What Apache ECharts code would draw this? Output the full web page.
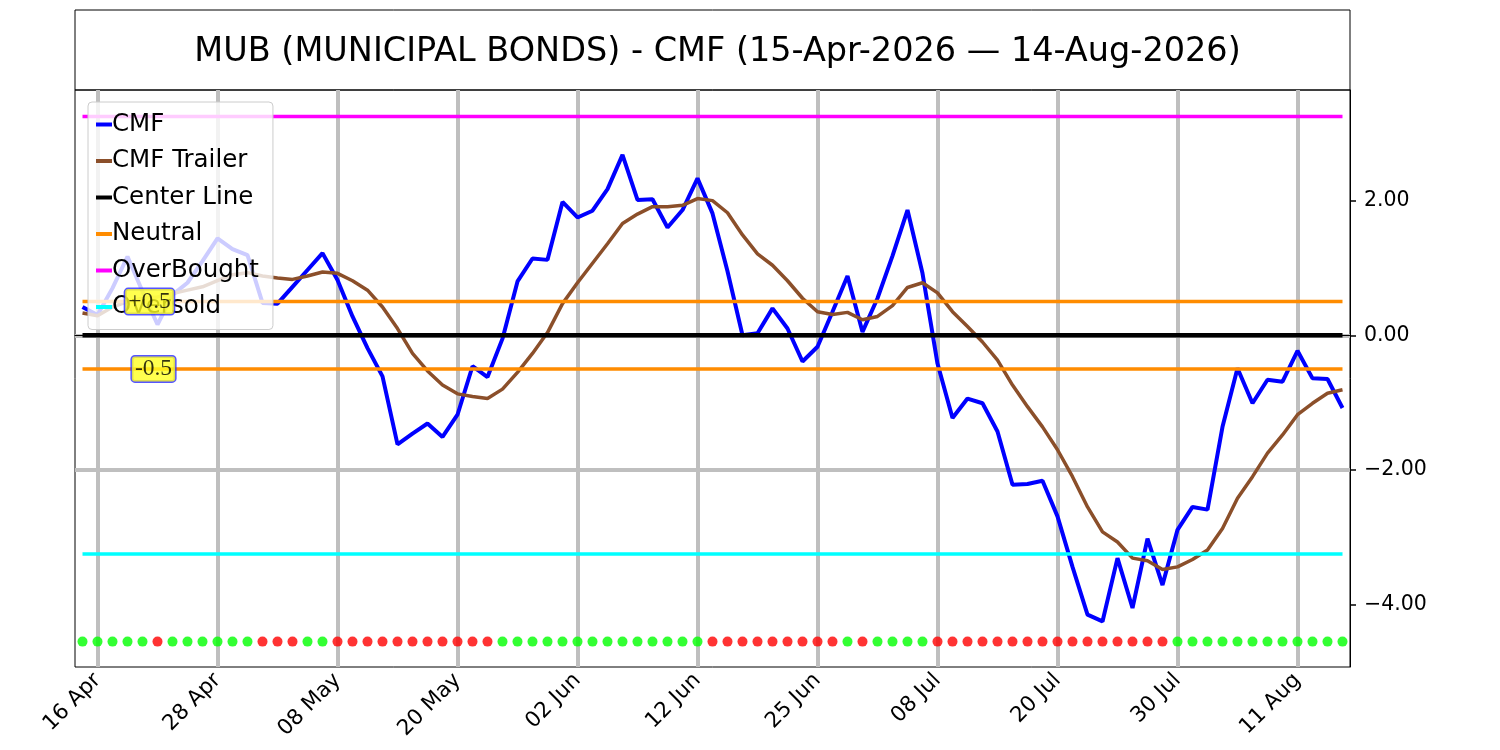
<!DOCTYPE html>
<html lang="en">
<head>
<meta charset="UTF-8">
<title>MUB CMF</title>
<script src="https://cdn.jsdelivr.net/npm/echarts@6/dist/echarts.min.js"></script>
<style>
    *{margin:0;padding:0;}
    html,body{width:100%;height:100%;overflow:hidden;background:#fff;}
    .container{width:1500px;height:750px;}
</style>
</head>
<body>
<div class="container"></div>
<script>
    // trading days 15 Apr 2026 - 14 Aug 2026
    const dates = [
        '15 Apr','16 Apr','17 Apr','20 Apr','21 Apr','22 Apr','23 Apr','24 Apr','27 Apr','28 Apr','29 Apr','30 Apr',
        '01 May','04 May','05 May','06 May','07 May','08 May','11 May','12 May','13 May','14 May','15 May','18 May',
        '19 May','20 May','21 May','22 May','26 May','27 May','28 May','29 May',
        '01 Jun','02 Jun','03 Jun','04 Jun','05 Jun','08 Jun','09 Jun','10 Jun','11 Jun','12 Jun','15 Jun','16 Jun',
        '17 Jun','18 Jun','22 Jun','23 Jun','24 Jun','25 Jun','26 Jun','29 Jun','30 Jun',
        '01 Jul','02 Jul','06 Jul','07 Jul','08 Jul','09 Jul','10 Jul','13 Jul','14 Jul','15 Jul','16 Jul','17 Jul',
        '20 Jul','21 Jul','22 Jul','23 Jul','24 Jul','27 Jul','28 Jul','29 Jul','30 Jul','31 Jul',
        '03 Aug','04 Aug','05 Aug','06 Aug','07 Aug','10 Aug','11 Aug','12 Aug','13 Aug','14 Aug'
    ];
    const tickDates = ['16 Apr','28 Apr','08 May','20 May','02 Jun','12 Jun','25 Jun','08 Jul','20 Jul','30 Jul','11 Aug'];

    const cmf = [
        0.42, 0.30, 0.70, 1.17, 0.65, 0.16, 0.60, 0.78, 1.10, 1.44,
        1.28, 1.19, 0.48, 0.47, 0.72, 0.97, 1.22, 0.82, 0.28, -0.19,
        -0.61, -1.62, -1.46, -1.31, -1.51, -1.18, -0.46, -0.62, -0.05, 0.80,
        1.14, 1.12, 1.98, 1.75, 1.85, 2.17, 2.68, 2.01, 2.02, 1.60,
        1.86, 2.33, 1.81, 0.95, 0.00, 0.03, 0.40, 0.10, -0.39, -0.17,
        0.35, 0.88, 0.05, 0.55, 1.18, 1.86, 0.92, -0.42, -1.23, -0.94,
        -1.01, -1.43, -2.22, -2.21, -2.16, -2.69, -3.44, -4.15, -4.25, -3.31,
        -4.05, -3.02, -3.71, -2.89, -2.55, -2.59, -1.36, -0.49, -1.01, -0.66,
        -0.69, -0.23, -0.64, -0.65, -1.08
    ];
    const trailer = [
        0.33, 0.29, 0.42, 0.50, 0.55, 0.57, 0.62, 0.67, 0.72, 0.81,
        0.90, 0.93, 0.88, 0.85, 0.83, 0.88, 0.94, 0.92, 0.81, 0.67,
        0.42, 0.10, -0.27, -0.53, -0.74, -0.87, -0.91, -0.94, -0.80, -0.55,
        -0.27, 0.04, 0.47, 0.78, 1.07, 1.36, 1.66, 1.80, 1.91, 1.91,
        1.93, 2.03, 2.00, 1.82, 1.49, 1.21, 1.04, 0.81, 0.55, 0.35,
        0.31, 0.34, 0.23, 0.28, 0.44, 0.71, 0.78, 0.63, 0.35, 0.13,
        -0.10, -0.37, -0.74, -1.06, -1.36, -1.70, -2.10, -2.55, -2.92, -3.07,
        -3.31, -3.35, -3.48, -3.44, -3.33, -3.19, -2.87, -2.42, -2.10, -1.75,
        -1.48, -1.18, -1.01, -0.86, -0.81
    ];
    // 1 = green dot, 0 = red dot
    const signal = [
        1,1,1,1,1,0,1,1,1,1,1,1,0,0,0,1,1,0,0,0,
        0,0,0,0,0,0,0,0,1,1,1,1,1,1,1,1,1,1,1,1,
        1,1,0,0,0,0,0,0,0,0,0,1,0,1,1,1,1,0,0,0,
        0,0,0,0,0,0,0,0,0,0,0,0,0,1,1,1,1,1,1,1,
        1,1,1,1,1
    ];
    const centerLevel = 0;
    const neutralLevel = 0.5;
    const overBoughtLevel = 3.25;
    const overSoldLevel = -3.25;
    const dotLevel = -4.55;
    const yTicks = [-4, -2, 0, 2];

    window.onload = function () {
        let container = document.querySelector('.container')
        let chart = echarts.init(container)

        const flat = v => dates.map(() => v)
        const fmt = v => (v < 0 ? '\u2212' : '') + Math.abs(v).toFixed(2)
        const showTick = (i, v) => tickDates.includes(v)

        const lineSeries = (name, data, color, width) => ({
            name, type: 'line', data, symbol: 'none', silent: true,
            lineStyle: {color, width}, itemStyle: {color}
        })

        let options = {
            animation: false,
            textStyle: {fontFamily: 'DejaVu Sans', color: '#000'},
            title: {
                text: 'MUB (MUNICIPAL BONDS) - CMF (15-Apr-2026 \u2014 14-Aug-2026)',
                left: 712.5, top: 30, textAlign: 'center',
                textStyle: {fontSize: 33.5, fontWeight: 'normal', color: '#000', fontFamily: 'DejaVu Sans'}
            },
            graphic: [{
                type: 'rect', shape: {x: 75, y: 10, width: 1275, height: 80},
                style: {fill: 'none', stroke: '#000', lineWidth: 1}
            }],
            grid: {
                left: 75, right: 150, top: 90, bottom: 83,
                show: true, borderColor: '#000', borderWidth: 1, backgroundColor: '#fff'
            },
            legend: {
                left: 88, top: 102, orient: 'vertical',
                data: ['CMF', 'CMF Trailer', 'Center Line', 'Neutral', 'OverBought', 'Oversold'],
                icon: 'rect', itemWidth: 16, itemHeight: 4, itemGap: 11.5,
                padding: [10, 14, 10, 8],
                backgroundColor: 'rgba(255,255,255,0.8)', borderColor: '#cccccc', borderWidth: 1, borderRadius: 4,
                textStyle: {fontSize: 24.5, color: '#000', lineHeight: 21, fontFamily: 'DejaVu Sans', padding: [0, 0, 0, -5]}
            },
            xAxis: {
                type: 'category', data: dates, boundaryGap: true,
                axisLine: {lineStyle: {color: '#000', width: 1}},
                axisTick: {interval: showTick, alignWithLabel: true, length: 6, lineStyle: {color: '#000', width: 1.5}},
                axisLabel: {interval: showTick, rotate: 45, fontSize: 21.5, color: '#000', margin: 10},
                splitLine: {show: true, interval: showTick, alignWithLabel: true, lineStyle: {color: '#bfbfbf', width: 4}}
            },
            yAxis: {
                type: 'value', position: 'right', min: -4.927, max: 3.643,
                axisLine: {show: true, lineStyle: {color: '#000', width: 1}},
                axisTick: {show: true, length: 6, customValues: yTicks, lineStyle: {color: '#000', width: 1.5}},
                axisLabel: {customValues: yTicks, fontSize: 20.5, color: '#000', margin: 14, formatter: fmt},
                splitLine: {show: true, showMinLine: false, showMaxLine: false, lineStyle: {color: '#bfbfbf', width: 4}}
            },
            series: [
                lineSeries('CMF', cmf, '#0000ff', 4),
                lineSeries('CMF Trailer', trailer, '#8b4f2a', 3.5),
                lineSeries('Center Line', flat(centerLevel), '#000000', 4.5),
                lineSeries('Neutral', flat(neutralLevel), '#ff8c00', 3.5),
                lineSeries('Neutral', flat(-neutralLevel), '#ff8c00', 3.5),
                lineSeries('OverBought', flat(overBoughtLevel), '#ff00ff', 3.5),
                lineSeries('Oversold', flat(overSoldLevel), '#00ffff', 3.5),
                {
                    name: 'signal', type: 'scatter', symbol: 'circle', symbolSize: 10, silent: true,
                    data: signal.map((s, i) => ({
                        value: [i, dotLevel],
                        itemStyle: {color: s ? '#00ff00' : '#ff0000'}
                    }))
                },
                {
                    name: 'annot', type: 'scatter', symbolSize: 0, silent: true, z: 10,
                    data: [
                        {value: [4, neutralLevel], label: {formatter: '+0.5', offset: [7, 0]}},
                        {value: [5, -neutralLevel], label: {formatter: '-0.5', offset: [-4, 0]}}
                    ],
                    label: {
                        show: true, position: 'inside', color: '#000', fontSize: 23.5,
                        fontFamily: 'Liberation Serif', backgroundColor: '#ffff22',
                        borderColor: '#2a2aff', borderWidth: 1.5, borderRadius: 3, padding: [1, 3, 0, 3]
                    }
                }
            ]
        };

        chart.setOption(options)
    }
</script>
</body>
</html>
